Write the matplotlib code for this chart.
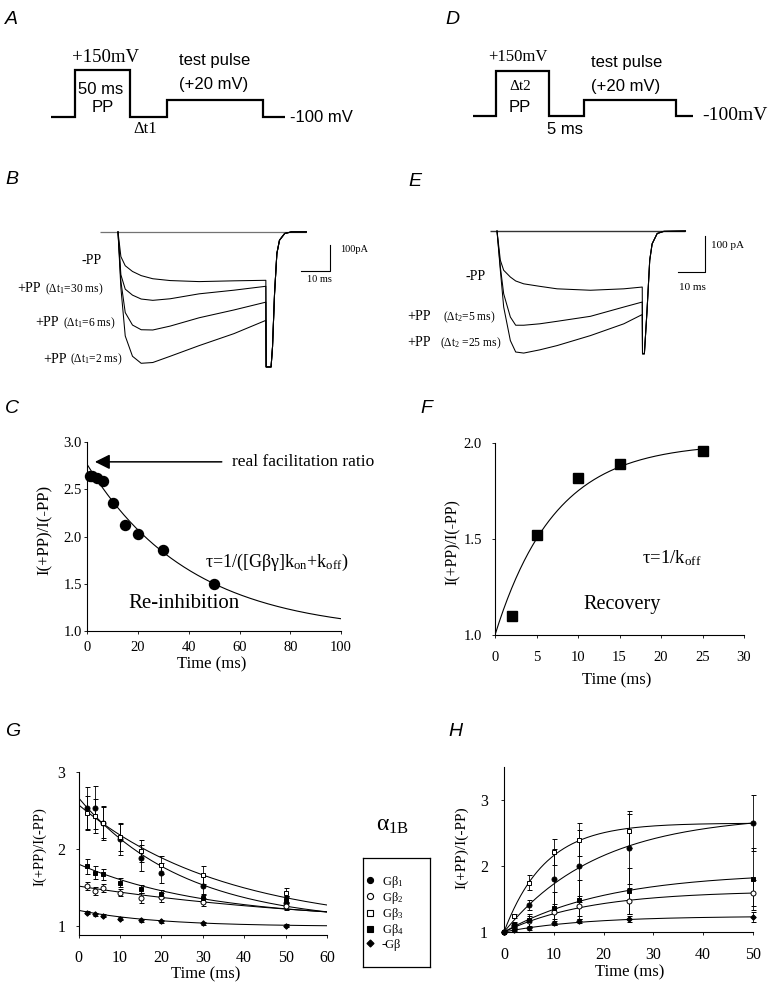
import matplotlib
matplotlib.use("Agg")
import matplotlib.pyplot as plt
import numpy as np
from matplotlib.lines import Line2D

# ---------------- data ----------------
# A, D : voltage protocols (schematic time edges, relative step height)
protoA_time = [0, 22, 72, 106, 194, 214]
protoA_level = [0, 1, 0, 0.37, 0]
protoD_time = [0, 23, 76, 111, 203, 220]
protoD_level = [0, 1, 0, 0.36, 0]

# B : current traces (ms, pA)
B_time = [0, 1.0, 2.5, 5, 8, 12, 18, 28, 40, 51]
B_minusPP = [0, -95, -130, -152, -168, -180, -187, -191, -188, -186]
B_PP30 = [0, -165, -220, -243, -258, -263, -257, -238, -224, -209]
B_PP6 = [0, -190, -310, -358, -376, -377, -362, -330, -300, -270]
B_PP2 = [0, -215, -400, -478, -505, -502, -478, -437, -391, -340]
B_tail_time = [51.1, 52.0, 52.8, 53.3, 54.0, 54.8, 55.7, 57.5, 59.8, 65.0]
B_tail_I = [-519, -519, -519, -442, -237, -83, -32, -6, 0, 0]

# E : current traces (ms, pA)
E_time = [0, 1.25, 2.5, 5, 7, 10, 16, 22.5, 35, 47.5, 54.4]
E_minusPP = [0, -82, -110, -129, -140, -148, -155, -162, -166, -162, -157]
E_PP5 = [0, -101, -176, -241, -264, -264, -260, -253, -239, -213, -199]
E_PP25 = [0, -110, -213, -307, -339, -342, -333, -321, -293, -260, -234]
E_tail_time = [54.5, 55.2, 56.2, 57.2, 58.1, 60.0, 62.5, 70.6]
E_tail_I = [-344, -344, -222, -82, -36, -7, -1, 0]

scalebar_ms = 10
scalebar_pA = 100

# C : re-inhibition
C_time = [1, 2, 4, 6, 10, 15, 20, 30, 50]
C_ratio = [2.64, 2.64, 2.62, 2.59, 2.35, 2.12, 2.03, 1.86, 1.50]
C_fit_inf, C_fit_amp, C_fit_tau = 0.976, 1.784, 40.8
C_real_ratio = 2.79

# F : recovery
F_time = [2, 5, 10, 15, 25]
F_ratio = [1.10, 1.52, 1.82, 1.89, 1.96]
F_fit_amp, F_fit_tau = 1.0, 7.2

# G : alpha1B re-inhibition with G-beta subunits
G_time = [2, 4, 6, 10, 15, 20, 30, 50]
G_b1 = [2.53, 2.53, 2.33, 2.12, 1.88, 1.69, 1.52, 1.30]
G_b1_err = [0.27, 0.28, 0.22, 0.20, 0.17, 0.13, 0.12, 0.08]
G_b2 = [1.52, 1.45, 1.49, 1.43, 1.36, 1.37, 1.31, 1.26]
G_b2_err = [0.05, 0.05, 0.05, 0.05, 0.07, 0.06, 0.05, 0.05]
G_b3 = [2.46, 2.42, 2.34, 2.15, 1.97, 1.79, 1.66, 1.43]
G_b3_err = [0.22, 0.22, 0.20, 0.18, 0.14, 0.12, 0.12, 0.06]
G_b4 = [1.77, 1.69, 1.67, 1.56, 1.48, 1.41, 1.36, 1.34]
G_b4_err = [0.10, 0.08, 0.07, 0.06, 0.05, 0.05, 0.05, 0.05]
G_nob = [1.17, 1.15, 1.13, 1.09, 1.07, 1.06, 1.035, 1.00]
G_nob_err = [0.02, 0.02, 0.02, 0.02, 0.02, 0.02, 0.02, 0.02]
# exponential decay fits: (y_inf, amplitude, tau)
G_fits = {"b1": (1.023, 1.637, 25.6), "b2": (0.955, 0.56, 65.8),
          "b3": (0.977, 1.593, 35.4), "b4": (1.077, 0.723, 30.8),
          "nob": (0.991, 0.209, 19.2)}

# H : recovery with G-beta subunits
H_time = [0, 2, 5, 10, 15, 25, 50]
H_b3_time = [0, 2, 5, 10, 15, 25]
H_b1 = [1, 1.10, 1.41, 1.81, 2.00, 2.28, 2.65]
H_b1_err = [0, 0.04, 0.08, 0.45, 0.55, 0.55, 0.42]
H_b2 = [1, 1.09, 1.16, 1.31, 1.40, 1.47, 1.59]
H_b2_err = [0, 0.03, 0.08, 0.12, 0.15, 0.20, 0.20]
H_b3 = [1, 1.24, 1.75, 2.21, 2.40, 2.53]
H_b3_err = [0, 0.03, 0.11, 0.20, 0.25, 0.26]
H_b4 = [1, 1.11, 1.18, 1.36, 1.49, 1.62, 1.81]
H_b4_err = [0, 0.04, 0.10, 0.25, 0.30, 0.35, 0.47]
H_nob = [1, 1.03, 1.06, 1.13, 1.16, 1.20, 1.23]
H_nob_err = [0, 0.02, 0.03, 0.03, 0.03, 0.05, 0.08]
# recovery fits: (amplitude, tau)
H_fits = {"b1": (1.779, 19.0), "b2": (0.623, 17.0), "b3": (1.65, 8.25),
          "b4": (0.902, 20.9), "nob": (0.24, 16.0)}

legend_labels = ["Gβ$_1$", "Gβ$_2$", "Gβ$_3$", "Gβ$_4$", "-Gβ"]

# ---------------- style ----------------
plt.rcParams['font.family'] = ['Liberation Serif', 'DejaVu Serif']
plt.rcParams['mathtext.fontset'] = 'custom'
plt.rcParams['mathtext.rm'] = 'Liberation Serif'
plt.rcParams['mathtext.it'] = 'Liberation Serif:italic'
plt.rcParams['mathtext.bf'] = 'Liberation Serif:bold'
plt.rcParams['mathtext.default'] = 'regular'

W, H = 775, 993
fig = plt.figure(figsize=(W / 100, H / 100), dpi=100)

SANS = ['Liberation Sans', 'DejaVu Sans']
SERIF = ['Liberation Serif', 'DejaVu Serif']


def add_ax(x0, y0, x1, y1):
    return fig.add_axes([x0 / W, 1 - y1 / H, (x1 - x0) / W, (y1 - y0) / H])


def ftext(x, y, s, **kw):
    kw.setdefault('ha', 'center')
    kw.setdefault('va', 'center')
    fig.text(x / W, 1 - y / H, s, **kw)


def panel_letter(x, y, s):
    ftext(x, y, s, family=SANS, style='italic', fontsize=14, ha='left')


def style_graph(ax, fs=10.5, xpad=2, ypad=2):
    for sp in ['top', 'right']:
        ax.spines[sp].set_visible(False)
    for sp in ['left', 'bottom']:
        ax.spines[sp].set_linewidth(0.8)
    ax.tick_params(direction='out', length=2.5, width=0.6, labelsize=fs)
    ax.tick_params(axis='x', pad=xpad)
    ax.tick_params(axis='y', pad=ypad)


# ---------------- A / D protocols ----------------
axA = add_ax(50.7, 70, 285, 117.3)
axA.stairs(protoA_level, protoA_time, baseline=None, color='black', lw=1.6, clip_on=False)
axA.set_xlim(protoA_time[0], protoA_time[-1]); axA.set_ylim(0, 1); axA.axis('off')

axD = add_ax(473.3, 71, 693.3, 116)
axD.stairs(protoD_level, protoD_time, baseline=None, color='black', lw=1.6, clip_on=False)
axD.set_xlim(protoD_time[0], protoD_time[-1]); axD.set_ylim(0, 1); axD.axis('off')

panel_letter(5, 20, 'A')
ftext(105, 57, '+150mV', family=SERIF, fontsize=13.5)
ftext(101, 90, '50 ms', family=SANS, fontsize=12)
ftext(103, 108, 'PP', family=SANS, fontsize=12)
ftext(145, 129, 'Δt1', family=SERIF, fontsize=12)
ftext(215, 60, 'test pulse', family=SANS, fontsize=12)
ftext(214, 84, '(+20 mV)', family=SANS, fontsize=12)
ftext(290, 117, '-100 mV', family=SANS, fontsize=12, ha='left')

panel_letter(445, 20, 'D')
ftext(518, 57, '+150mV', family=SERIF, fontsize=12)
ftext(520, 87, 'Δt2', family=SERIF, fontsize=11)
ftext(520, 107, 'PP', family=SANS, fontsize=12)
ftext(565, 130, '5 ms', family=SANS, fontsize=12)
ftext(627, 63, 'test pulse', family=SANS, fontsize=12)
ftext(626, 87, '(+20 mV)', family=SANS, fontsize=12)
ftext(702, 115, '-100mV', family=SERIF, fontsize=14, ha='left')

# ---------------- B traces ----------------
axB = add_ax(95, 215, 345, 375)
axB.hlines(0, B_time[0] - 6.3, B_tail_time[-1], color='0.45', lw=0.9)
for tr in [B_minusPP, B_PP30, B_PP6, B_PP2]:
    axB.plot(B_time + B_tail_time, tr + B_tail_I, color='black', lw=0.75)
axB.set_xlim(-7.93, 78.3); axB.set_ylim(-550, 65); axB.axis('off')
sbx = 73.1
axB.plot([sbx - scalebar_ms, sbx, sbx], [-150, -150, -150 + scalebar_pA], color='black', lw=0.8)

panel_letter(5, 180, 'B')
ftext(340, 250, '100pA', family=SERIF, fontsize=7.5, ha='left')
ftext(319, 279, '10 ms', family=SERIF, fontsize=7.5)
ftext(92, 260, '-PP', family=SERIF, fontsize=10)
ftext(17, 289, '+PP', family=SERIF, fontsize=10, ha='left')
ftext(45, 289, '(Δt$_1$=30 ms)', family=SERIF, fontsize=8.3, ha='left')
ftext(35, 323, '+PP', family=SERIF, fontsize=10, ha='left')
ftext(63, 323, '(Δt$_1$=6 ms)', family=SERIF, fontsize=8.3, ha='left')
ftext(43, 359, '+PP', family=SERIF, fontsize=10, ha='left')
ftext(70, 359, '(Δt$_1$=2 ms)', family=SERIF, fontsize=8.3, ha='left')

# ---------------- E traces ----------------
axE = add_ax(480, 215, 750, 365)
axE.hlines(0, E_time[0] - 2.5, E_tail_time[-1], color='0.2', lw=1.0)
for tr in [E_minusPP, E_PP5, E_PP25]:
    axE.plot(E_time + E_tail_time, tr + E_tail_I, color='black', lw=0.75)
axE.set_xlim(-6.37, 94.76); axE.set_ylim(-375.4, 44.8); axE.axis('off')
sbx = 77.9
axE.plot([sbx - scalebar_ms, sbx, sbx], [-114, -114, -114 + scalebar_pA], color='black', lw=0.8)

panel_letter(408, 182, 'E')
ftext(711, 245, '100 pA', family=SERIF, fontsize=8, ha='left')
ftext(692, 287, '10 ms', family=SERIF, fontsize=8)
ftext(476, 277, '-PP', family=SERIF, fontsize=10)
ftext(407, 317, '+PP', family=SERIF, fontsize=10, ha='left')
ftext(443, 317, '(Δt$_2$=5 ms)', family=SERIF, fontsize=8.3, ha='left')
ftext(407, 343, '+PP', family=SERIF, fontsize=10, ha='left')
ftext(440, 343, '(Δt$_2$ =25 ms)', family=SERIF, fontsize=8.3, ha='left')

# ---------------- C ----------------
axC = add_ax(87.3, 442, 341, 631)
tC = np.linspace(0, 100, 300)
axC.plot(tC, C_fit_inf + C_fit_amp * np.exp(-tC / C_fit_tau), color='black', lw=0.8)
axC.plot(C_time, C_ratio, 'o', color='black', ms=7.2, clip_on=False)
axC.set_xlim(0, 100); axC.set_ylim(1.0, 3.0)
axC.set_xticks([0, 20, 40, 60, 80, 100])
axC.set_yticks([1.0, 1.5, 2.0, 2.5, 3.0])
axC.set_yticklabels(['1.0', '1.5', '2.0', '2.5', '3.0'])
style_graph(axC, 10.5, xpad=5, ypad=1.5)
axC.annotate('', xy=(3, C_real_ratio), xytext=(53, C_real_ratio),
             arrowprops=dict(arrowstyle='-|>,head_length=0.9,head_width=0.45',
                             color='black', lw=1.1, shrinkA=0, shrinkB=0),
             annotation_clip=False)
panel_letter(5, 409, 'C')
ftext(232, 462, 'real facilitation ratio', family=SERIF, fontsize=12.5, ha='left')
ftext(205, 562, 'τ=1/([Gβγ]k$_{\\rm on}$+k$_{\\rm off}$)', family=SERIF, fontsize=13, ha='left')
ftext(128, 603, 'Re-inhibition', family=SERIF, fontsize=15, ha='left')
ftext(45, 530, 'I(+PP)/I(-PP)', family=SERIF, fontsize=12, rotation=90)
ftext(212, 664, 'Time (ms)', family=SERIF, fontsize=12)

# ---------------- F ----------------
axF = add_ax(495, 443, 744, 635)
tF = np.linspace(0, 25, 200)
axF.plot(tF, 1 + F_fit_amp * (1 - np.exp(-tF / F_fit_tau)), color='black', lw=0.8)
axF.plot(F_time, F_ratio, 's', color='black', ms=6.7, clip_on=False)
axF.set_xlim(0, 30); axF.set_ylim(1.0, 2.0)
axF.set_xticks([0, 5, 10, 15, 20, 25, 30])
axF.set_yticks([1.0, 1.5, 2.0])
axF.set_yticklabels(['1.0', '1.5', '2.0'])
style_graph(axF, 10.5, xpad=9, ypad=7)
panel_letter(420, 409, 'F')
ftext(642, 558, 'τ=1/k$_{\\rm off}$', family=SERIF, fontsize=13.5, ha='left')
ftext(583, 605, 'Recovery', family=SERIF, fontsize=14.5, ha='left')
ftext(453, 542, 'I(+PP)/I(-PP)', family=SERIF, fontsize=11.5, rotation=90)
ftext(617, 680, 'Time (ms)', family=SERIF, fontsize=12)

# ---------------- G ----------------
markers = {
    "b1": dict(marker='o', mfc='black'),
    "b2": dict(marker='o', mfc='white'),
    "b3": dict(marker='s', mfc='white'),
    "b4": dict(marker='s', mfc='black'),
    "nob": dict(marker='D', mfc='black'),
}
msz = {"b1": 3.6, "b2": 3.6, "b3": 3.4, "b4": 3.4, "nob": 2.8}

axG = add_ax(78.6, 771.7, 327, 935)
tG = np.linspace(0, 60, 300)
for key, (c, a, tau) in G_fits.items():
    axG.plot(tG, c + a * np.exp(-tG / tau), color='black', lw=0.75)
G_series = {"b1": (G_b1, G_b1_err), "b2": (G_b2, G_b2_err), "b3": (G_b3, G_b3_err),
            "b4": (G_b4, G_b4_err), "nob": (G_nob, G_nob_err)}
for key, (vals, err) in G_series.items():
    axG.errorbar(G_time, vals, yerr=err, linestyle='none', mec='black', ms=msz[key],
                 mew=0.7, ecolor='black', elinewidth=0.6, capsize=1.8, capthick=0.6,
                 clip_on=False, **markers[key])
axG.set_xlim(0, 60); axG.set_ylim(0.88, 3.0)
axG.set_xticks([0, 10, 20, 30, 40, 50, 60]); axG.set_yticks([1, 2, 3])
style_graph(axG, 11.5, xpad=8, ypad=7)
panel_letter(5, 732, 'G')
ftext(40, 847, 'I(+PP)/I(-PP)', family=SERIF, fontsize=10.5, rotation=90)
ftext(206, 974, 'Time (ms)', family=SERIF, fontsize=12)
ftext(393, 826, 'α$_{\\rm 1B}$', family=SERIF, fontsize=17)

# legend box
axL = add_ax(363, 858, 430, 967)
axL.set_xticks([]); axL.set_yticks([])
for sp in axL.spines.values():
    sp.set_linewidth(0.9)
handles = [Line2D([], [], linestyle='none', mec='black', ms=msz[k] + 0.8, mew=0.8, **markers[k])
           for k in ["b1", "b2", "b3", "b4", "nob"]]
axL.legend(handles, legend_labels, loc='upper left', bbox_to_anchor=(0.0, 0.88),
           frameon=False, fontsize=9, borderpad=0.2, borderaxespad=0,
           handlelength=0.7, handletextpad=0.6, labelspacing=0.02)

# ---------------- H ----------------
axH = add_ax(504, 767, 753, 932)
tH = np.linspace(0, 50, 300)
for key, (a, tau) in H_fits.items():
    axH.plot(tH, 1 + a * (1 - np.exp(-tH / tau)), color='black', lw=0.75)
H_series = {"b1": (H_time, H_b1, H_b1_err), "b2": (H_time, H_b2, H_b2_err),
            "b3": (H_b3_time, H_b3, H_b3_err), "b4": (H_time, H_b4, H_b4_err),
            "nob": (H_time, H_nob, H_nob_err)}
for key, (tt, vals, err) in H_series.items():
    axH.errorbar(tt, vals, yerr=err, linestyle='none', mec='black', ms=msz[key],
                 mew=0.7, ecolor='black', elinewidth=0.6, capsize=1.8, capthick=0.6,
                 clip_on=False, **markers[key])
axH.set_xlim(0, 50); axH.set_ylim(1.0, 3.5)
axH.set_xticks([0, 10, 20, 30, 40, 50]); axH.set_yticks([1, 2, 3])
style_graph(axH, 11.5, xpad=8, ypad=9)
panel_letter(448, 732, 'H')
ftext(462, 848, 'I(+PP)/I(-PP)', family=SERIF, fontsize=11, rotation=90)
ftext(630, 972, 'Time (ms)', family=SERIF, fontsize=12)

fig.savefig('out.png', dpi=100)
